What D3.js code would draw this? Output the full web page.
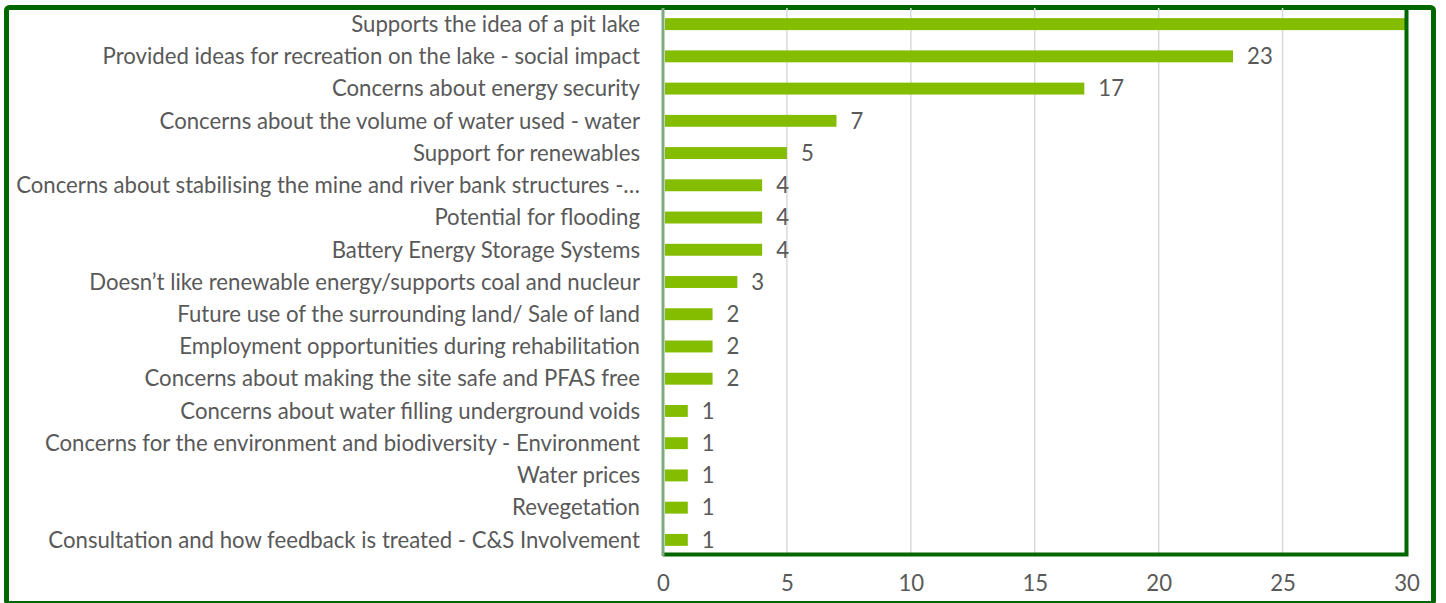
<!DOCTYPE html>
<html lang="en">
<head>
  <meta charset="UTF-8">
  <title>Feedback themes</title>
  <style>
    body { margin: 0; background: #fff; }
    text { font-family: Lato, "Open Sans", sans-serif; fill: #595959; }
  </style>
</head>
<body>
  <div id="chart"></div>
  <script src="https://d3js.org/d3.v7.min.js"></script>
  <script>
    // data
    const categories = [
      "Supports the idea of a pit lake",
      "Provided ideas for recreation on the lake - social impact",
      "Concerns about energy security",
      "Concerns about the volume of water used - water",
      "Support for renewables",
      "Concerns about stabilising the mine and river bank structures -\u2026",
      "Potential for flooding",
      "Battery Energy Storage Systems",
      "Doesn\u2019t like renewable energy/supports coal and nucleur",
      "Future use of the surrounding land/ Sale of land",
      "Employment opportunities during rehabilitation",
      "Concerns about making the site safe and PFAS free",
      "Concerns about water filling underground voids",
      "Concerns for the environment and biodiversity - Environment",
      "Water prices",
      "Revegetation",
      "Consultation and how feedback is treated - C&S Involvement"
    ];
    const values = [30, 23, 17, 7, 5, 4, 4, 4, 3, 2, 2, 2, 1, 1, 1, 1, 1];
    const xTicks = [0, 5, 10, 15, 20, 25, 30];

    const width = 1446, height = 603;
    const plot = { left: 663, right: 1406.5, top: 8, bottom: 556 };

    const svg = d3.select("#chart").append("svg")
      .attr("width", width)
      .attr("height", height);

    const x = d3.scaleLinear().domain([0, 30]).range([plot.left, plot.right]);
    const y = d3.scaleBand().domain(categories)
      .range([plot.top, plot.bottom])
      .paddingInner(0.63).paddingOuter(0.315);

    // outer frame
    svg.append("rect")
      .attr("x", 6.5).attr("y", 7.5)
      .attr("width", 1427).attr("height", 596)
      .attr("rx", 3)
      .attr("fill", "none")
      .attr("stroke", "#006600")
      .attr("stroke-width", 5);

    // gridlines
    svg.append("g").selectAll("line")
      .data(xTicks.filter(d => d > 0 && d < 30))
      .join("line")
      .attr("x1", d => x(d)).attr("x2", d => x(d))
      .attr("y1", plot.top).attr("y2", plot.bottom - 2)
      .attr("stroke", "#d9d9d9")
      .attr("stroke-width", 1.5);

    // bars
    svg.append("g").selectAll("rect")
      .data(values)
      .join("rect")
      .attr("x", x(0) + 2)
      .attr("y", (d, i) => y(categories[i]))
      .attr("width", d => x(d) - x(0) - 2)
      .attr("height", y.bandwidth())
      .attr("fill", "#84bc00");

    // plot area border (right + bottom), axis line on the left
    svg.append("path")
      .attr("d", `M${plot.right},${plot.top}V${plot.bottom - 1.5}H${plot.left}`)
      .attr("fill", "none")
      .attr("stroke", "#006600")
      .attr("stroke-width", 4);
    svg.append("line")
      .attr("x1", plot.left).attr("x2", plot.left)
      .attr("y1", plot.top).attr("y2", plot.bottom)
      .attr("stroke", "#7faa7f")
      .attr("stroke-width", 3);

    // category labels, sized so the last one spans the same width as in the original
    const labels = svg.append("g").selectAll("text")
      .data(categories)
      .join("text")
      .attr("x", 640)
      .attr("y", d => y(d) + y.bandwidth() / 2)
      .attr("dy", "0.35em")
      .attr("text-anchor", "end")
      .style("font-size", "20px")
      .text(d => d);
    const refWidth = labels.nodes()[categories.length - 1].getComputedTextLength();
    const fs = 20 * 592 / refWidth;
    labels.style("font-size", fs + "px");

    // value labels, clipped to the plot area
    svg.append("clipPath").attr("id", "plotClip")
      .append("rect")
      .attr("x", plot.left).attr("y", plot.top)
      .attr("width", plot.right - plot.left - 2)
      .attr("height", plot.bottom - plot.top);
    svg.append("g").attr("clip-path", "url(#plotClip)")
      .selectAll("text")
      .data(values)
      .join("text")
      .attr("x", d => x(d) + 14)
      .attr("y", (d, i) => y(categories[i]) + y.bandwidth() / 2)
      .attr("dy", "0.35em")
      .style("font-size", fs + "px")
      .text(d => d);

    // x axis labels
    const axis = svg.append("g")
      .attr("transform", `translate(0,${plot.bottom + 19})`)
      .call(d3.axisBottom(x).tickValues(xTicks).tickSize(0).tickPadding(0));
    axis.select(".domain").remove();
    axis.selectAll("text")
      .attr("fill", "#595959")
      .style("font-size", fs + "px")
      .style("font-family", "Lato, 'Open Sans', sans-serif");
  </script>
</body>
</html>
